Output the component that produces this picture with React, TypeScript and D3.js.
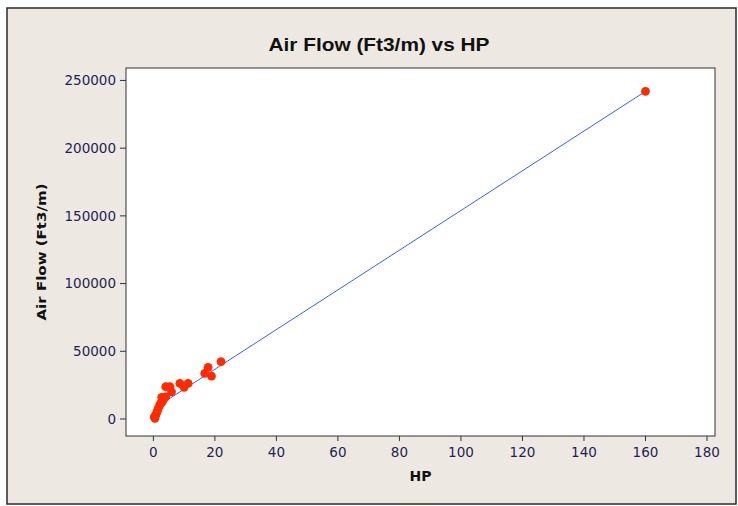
import React from 'react';
import * as d3 from 'd3';

// Air flow vs horse power readings
const hp = [0.3, 0.5, 0.8, 1.0, 1.3, 1.6, 2.0, 2.4, 2.7, 2.8, 3.2, 4.0, 4.0, 5.4, 5.9, 8.6, 10.0, 11.3, 16.7, 17.8, 18.9, 22.0, 160];
const airFlow = [1500, 500, 3000, 4200, 6000, 7900, 10000, 11800, 16000, 12500, 14000, 16400, 23800, 23800, 20100, 26300, 23400, 26300, 33700, 38100, 31700, 42300, 242000];

// fitted line: airFlow = fitIntercept + fitSlope * hp
const fitIntercept = 7400;
const fitSlope = 1466;

const xTicks = [0, 20, 40, 60, 80, 100, 120, 140, 160, 180];
const yTicks = [0, 50000, 100000, 150000, 200000, 250000];

const title = 'Air Flow (Ft3/m) vs HP';
const xTitle = 'HP';
const yTitle = 'Air Flow (Ft3/m)';

const App = () => {
  const width = 738;
  const height = 506;
  const plot = { left: 126, right: 715, top: 68, bottom: 436 };

  const x = d3.scaleLinear().domain([-8.9, 182.6]).range([plot.left, plot.right]);
  const y = d3.scaleLinear().domain([-12560, 259200]).range([plot.bottom, plot.top]);

  const points = hp.map((h, i) => ({ h, f: airFlow[i] }));
  const [xMin, xMax] = d3.extent(hp) as [number, number];
  const fitLine = d3
    .line<number>()
    .x((d) => x(d))
    .y((d) => y(fitIntercept + fitSlope * d));

  const tickColor = '#1f1f55';
  const font = 'DejaVu Sans, Verdana, sans-serif';

  return (
    <div style={{ position: 'fixed', left: 0, top: 0 }}>
      <svg width={width} height={height} style={{ display: 'block' }}>
        <rect x={0} y={0} width={width} height={height} fill="#ffffff" />
        <rect x={7} y={8} width={729} height={496} fill="#ede9e2" stroke="#2a2a2a" strokeWidth={1.5} />

        <text x={379} y={51} textAnchor="middle" fontFamily="Liberation Sans, Arial, sans-serif"
          fontWeight="bold" fontSize={19} fill="#111" textLength={221} lengthAdjust="spacingAndGlyphs">
          {title}
        </text>

        <rect x={plot.left} y={plot.top} width={plot.right - plot.left} height={plot.bottom - plot.top}
          fill="#ffffff" stroke="#333" strokeWidth={1} />

        {/* y axis */}
        {yTicks.map((t) => (
          <g key={'y' + t}>
            <line x1={plot.left - 6} x2={plot.left} y1={y(t)} y2={y(t)} stroke="#333" />
            <text x={plot.left - 10} y={y(t)} dy="0.35em" textAnchor="end" fontFamily={font}
              fontSize={13.5} fill={tickColor}>{t}</text>
          </g>
        ))}

        {/* x axis */}
        {xTicks.map((t) => (
          <g key={'x' + t}>
            <line x1={x(t)} x2={x(t)} y1={plot.bottom} y2={plot.bottom + 5} stroke="#333" />
            <text x={x(t)} y={plot.bottom + 21} textAnchor="middle" fontFamily={font}
              fontSize={13.5} fill={tickColor}>{t}</text>
          </g>
        ))}

        <text x={(plot.left + plot.right) / 2} y={481} textAnchor="middle" fontFamily={font}
          fontWeight="bold" fontSize={14} fill="#111">{xTitle}</text>
        <text transform={`translate(46,${(plot.top + plot.bottom) / 2}) rotate(-90)`} textAnchor="middle"
          fontFamily={font} fontWeight="bold" fontSize={13} fill="#111" textLength={137}
          lengthAdjust="spacingAndGlyphs">{yTitle}</text>

        <path d={fitLine([xMin, xMax]) || ''} fill="none" stroke="#3a5cff" strokeWidth={1} />

        {points.map((p, i) => (
          <circle key={i} cx={x(p.h)} cy={y(p.f)} r={4.4} fill="#ff2a00" />
        ))}
      </svg>
    </div>
  );
};

export default App;
